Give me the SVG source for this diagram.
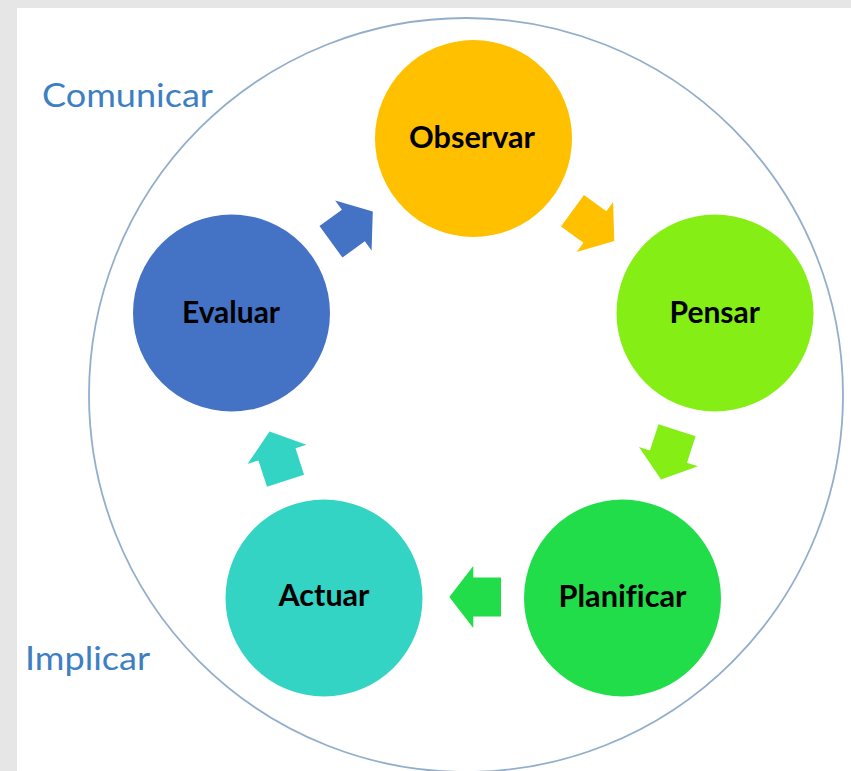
<svg xmlns="http://www.w3.org/2000/svg" width="851" height="771" viewBox="0 0 851 771">
  <defs>
    <style>
      .lbl { font-family: Lato, "Open Sans", "Liberation Sans", sans-serif; font-weight: bold; font-size: 30px; fill: #000000; font-variant-ligatures: none; }
      .side { font-family: Lato, "Open Sans", "Liberation Sans", sans-serif; font-size: 33px; fill: #3D7FC2; }
      .ring { fill: none; stroke: #93AECB; stroke-width: 1.8; }
    </style>
    <path id="arr" d="M-26,-19.5 H1.7 V-31 L25.7,0 L1.7,31 V19.5 H-26 Z"/>
  </defs>
  <rect x="0" y="0" width="851" height="771" fill="#E6E6E6"/>
  <rect x="17" y="8" width="834" height="763" fill="#FFFFFF"/>
  <circle class="ring" cx="466" cy="395" r="377"/>
  <text class="side" x="42" y="107" textLength="171" lengthAdjust="spacingAndGlyphs">Comunicar</text>
  <text class="side" x="25" y="670" textLength="125" lengthAdjust="spacingAndGlyphs">Implicar</text>
  <g id="connectors">
    <use href="#arr" fill="#FFC000" transform="translate(593.5,226) rotate(36)"/>
    <use href="#arr" fill="#84EE15" transform="translate(669,455) rotate(108)"/>
    <use href="#arr" fill="#22DD4A" transform="translate(475,597) rotate(180)"/>
    <use href="#arr" fill="#33D4C4" transform="translate(277.5,456) rotate(252)"/>
    <use href="#arr" fill="#4472C4" transform="translate(352,226.5) rotate(324)"/>
  </g>
  <g id="observar">
    <circle cx="473.5" cy="138.5" r="98.5" fill="#FFC000"/>
    <text class="lbl" x="409" y="148" textLength="126" lengthAdjust="spacingAndGlyphs">Observar</text>
  </g>
  <g id="pensar">
    <circle cx="715" cy="313" r="98.5" fill="#84EE15"/>
    <text class="lbl" x="669.5" y="323" textLength="90.5" lengthAdjust="spacingAndGlyphs">Pensar</text>
  </g>
  <g id="planificar">
    <circle cx="622.5" cy="598" r="98.5" fill="#22DD4A"/>
    <text class="lbl" x="558.5" y="606.5" textLength="128" lengthAdjust="spacingAndGlyphs">Planificar</text>
  </g>
  <g id="actuar">
    <circle cx="324" cy="598" r="98.5" fill="#33D4C4"/>
    <text class="lbl" x="278.5" y="606" textLength="91" lengthAdjust="spacingAndGlyphs">Actuar</text>
  </g>
  <g id="evaluar">
    <circle cx="231.5" cy="313" r="98.5" fill="#4472C4"/>
    <text class="lbl" x="182" y="323" textLength="98" lengthAdjust="spacingAndGlyphs">Evaluar</text>
  </g>
</svg>
